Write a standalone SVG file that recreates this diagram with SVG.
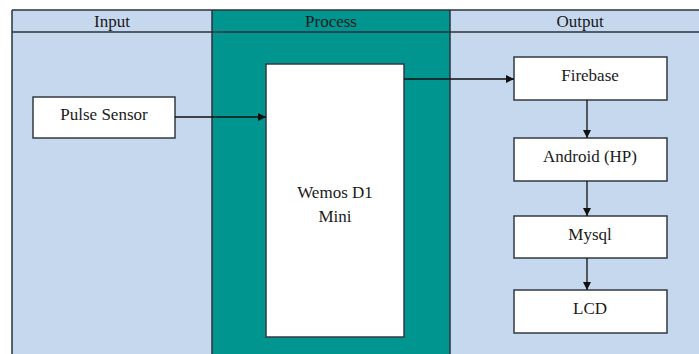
<svg xmlns="http://www.w3.org/2000/svg" width="699" height="354" viewBox="0 0 699 354">
<style>
text{font-family:'Liberation Serif','DejaVu Serif',serif;font-size:17px;fill:#1a1a1a;text-anchor:middle}
.grid{stroke:#2b3340;stroke-width:1.5;fill:none}
.box{fill:#ffffff;stroke:#333a44;stroke-width:1.5}
.conn{stroke:#111;stroke-width:1.3;fill:none;marker-end:url(#ah)}
</style>
<defs>
<marker id="ah" viewBox="0 0 10 10" refX="10" refY="5" markerWidth="8" markerHeight="8" markerUnits="userSpaceOnUse" orient="auto">
<path d="M0,0 L10,5 L0,10 z" fill="#111"/>
</marker>
</defs>
<rect x="0" y="0" width="699" height="354" fill="#ffffff"/>
<g id="table">
<rect x="12" y="10" width="200" height="344" fill="#c6d8ee"/>
<rect x="212" y="10" width="238" height="344" fill="#00968f"/>
<rect x="450" y="10" width="249" height="344" fill="#c6d8ee"/>
<path class="grid" d="M12,10 H699 M12,32 H699 M12,10 V354 M212,10 V354 M450,10 V354"/>
<text x="112" y="27" font-family="Liberation Serif, DejaVu Serif, serif">Input</text>
<text x="331" y="27" font-family="Liberation Serif, DejaVu Serif, serif">Process</text>
<text x="580" y="27" font-family="Liberation Serif, DejaVu Serif, serif">Output</text>
</g>
<g id="pulse">
<rect class="box" x="33" y="97" width="142" height="41"/>
<text x="104" y="120" font-family="Liberation Serif, DejaVu Serif, serif">Pulse Sensor</text>
</g>
<g id="wemos">
<rect class="box" x="266" y="64" width="138" height="273"/>
<text x="335" y="198" font-family="Liberation Serif, DejaVu Serif, serif">Wemos D1</text>
<text x="335" y="222" font-family="Liberation Serif, DejaVu Serif, serif">Mini</text>
</g>
<g id="firebase">
<rect class="box" x="514" y="57" width="153" height="43"/>
<text x="590" y="81" font-family="Liberation Serif, DejaVu Serif, serif">Firebase</text>
</g>
<g id="android">
<rect class="box" x="514" y="138" width="153" height="43"/>
<text x="590" y="162" font-family="Liberation Serif, DejaVu Serif, serif">Android (HP)</text>
</g>
<g id="mysql">
<rect class="box" x="514" y="216" width="153" height="42"/>
<text x="590" y="240" font-family="Liberation Serif, DejaVu Serif, serif">Mysql</text>
</g>
<g id="lcd">
<rect class="box" x="514" y="290" width="153" height="43"/>
<text x="590" y="314" font-family="Liberation Serif, DejaVu Serif, serif">LCD</text>
</g>
<g id="connectors">
<path class="conn" d="M175,117 H266"/>
<path class="conn" d="M404,79 H514"/>
<path class="conn" d="M587,100 V138"/>
<path class="conn" d="M587,181 V216"/>
<path class="conn" d="M587,258 V290"/>
</g>
</svg>
